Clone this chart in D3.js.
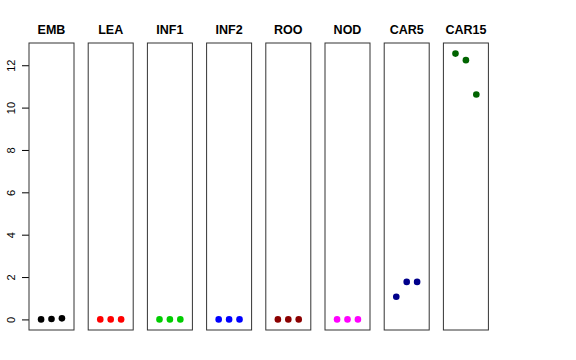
<!DOCTYPE html>
<html>
<head>
<meta charset="utf-8">
<script src="https://cdn.jsdelivr.net/npm/d3@7"></script>
<style>
  body { margin: 0; background: #fff; }
  svg { display: block; font-family: "Liberation Sans", Arial, sans-serif; }
</style>
</head>
<body>
<svg width="576" height="360"></svg>
<script>
const tissues = ['EMB', 'LEA', 'INF1', 'INF2', 'ROO', 'NOD', 'CAR5', 'CAR15'];
const colors = ['#000000', '#ff0000', '#00cd00', '#0000ff', '#8b0000', '#ff00ff', '#00008b', '#006400'];
const reps = [1, 2, 3];
const values = [
  [0.0, 0.02, 0.05],
  [0.0, 0.0, 0.0],
  [0.0, 0.0, 0.0],
  [0.0, 0.0, 0.0],
  [0.0, 0.0, 0.0],
  [0.0, 0.0, 0.0],
  [1.07, 1.77, 1.77],
  [12.55, 12.24, 10.62]
];
const yTicks = [0, 2, 4, 6, 8, 10, 12];

const svg = d3.select('svg');
const panelW = 45, step = 59.2, plotLeft = 29, plotTop = 43, plotBottom = 330;

let y = d3.scaleLinear().domain([-0.5, 13.05]).range([plotBottom, plotTop]);
let x = d3.scaleLinear().domain([-0.16, 4.16]).range([0, panelW]);

// y axis to the left of the first panel, labels turned like R's las=0
let yAxis = d3.axisLeft(y).tickValues(yTicks).tickSize(7);
let ag = svg.append('g').attr('transform', `translate(${plotLeft},0)`).call(yAxis);
ag.select('.domain').remove();
ag.selectAll('line').attr('stroke', '#000');
ag.selectAll('.tick text')
  .attr('font-size', 11)
  .attr('fill', '#000')
  .attr('text-anchor', 'middle')
  .attr('x', 0)
  .attr('dy', '0')
  .attr('transform', 'translate(-14,0) rotate(-90)');

tissues.forEach((t, i) => {
  let g = svg.append('g').attr('transform', `translate(${plotLeft + i * step},0)`);
  g.append('rect')
    .attr('x', 0).attr('y', plotTop)
    .attr('width', panelW).attr('height', plotBottom - plotTop)
    .attr('fill', 'none').attr('stroke', '#333').attr('stroke-width', 1);
  g.append('text')
    .attr('x', panelW / 2).attr('y', 34)
    .attr('text-anchor', 'middle')
    .attr('font-weight', 'bold')
    .attr('font-size', 12.5)
    .text(t);
  g.selectAll('circle')
    .data(values[i])
    .join('circle')
    .attr('cx', (d, j) => x(reps[j]))
    .attr('cy', (d) => y(d))
    .attr('r', 3.3)
    .attr('fill', colors[i]);
});
</script>
</body>
</html>
